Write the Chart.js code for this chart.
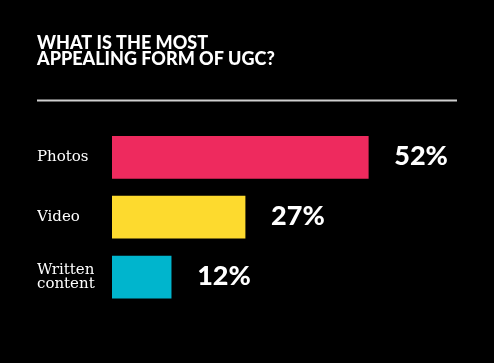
<!DOCTYPE html>
<html>
<head>
<meta charset="utf-8">
<script src="https://cdn.jsdelivr.net/npm/chart.js@4"></script>
<style>
  html, body { margin: 0; padding: 0; background: #000; }
  canvas { display: block; }
</style>
</head>
<body>
<canvas id="ugcChart" width="494" height="363"></canvas>
<script>
// Chart data
const categories = [['Photos'], ['Video'], ['Written', 'content']];
const shares = [52, 27, 12];
const barColors = ['#ee2a5e', '#fdda2e', '#00b5cd'];
const titleLines = ['WHAT IS THE MOST', 'APPEALING FORM OF UGC?'];

// Rule under the title
const titleRule = {
    id: 'titleRule',
    afterDraw(chart) {
        const t = chart.titleBlock;
        const ctx = chart.ctx;
        const y = t.bottom - 27;
        ctx.save();
        ctx.strokeStyle = '#cfcfcf';
        ctx.lineWidth = 2;
        ctx.beginPath();
        ctx.moveTo(t.left, y);
        ctx.lineTo(t.right, y);
        ctx.stroke();
        ctx.restore();
    }
};

// Percentage labels right of each bar
const valueLabels = {
    id: 'valueLabels',
    afterDatasetsDraw(chart) {
        const ctx = chart.ctx;
        const meta = chart.getDatasetMeta(0);
        ctx.save();
        ctx.fillStyle = '#fff';
        ctx.font = '900 27px Lato';
        ctx.textAlign = 'left';
        ctx.textBaseline = 'middle';
        meta.data.forEach((bar, i) => {
            ctx.fillText(shares[i] + '%', bar.x + 26, bar.y - 1);
        });
        ctx.restore();
    }
};

const ctx = document.getElementById('ugcChart').getContext('2d');
const ugcChart = new Chart(ctx, {
    type: 'bar',
    data: {
        labels: categories,
        datasets: [{
            data: shares,
            backgroundColor: barColors,
            borderWidth: 0,
            barThickness: 42
        }]
    },
    options: {
        indexAxis: 'y',
        responsive: false,
        animation: false,
        layout: {
            padding: { left: 37, right: 37, top: 0, bottom: 56 }
        },
        scales: {
            x: {
                display: false,
                min: 0,
                max: 70
            },
            y: {
                afterFit(scale) { scale.width = 75; },
                grid: { display: false },
                border: { display: false },
                ticks: {
                    color: '#fff',
                    crossAlign: 'far',
                    padding: 0,
                    font: { family: 'DejaVu Serif', size: 15, lineHeight: 0.95 }
                }
            }
        },
        plugins: {
            legend: { display: false },
            tooltip: { enabled: false },
            title: {
                display: true,
                text: titleLines,
                align: 'start',
                color: '#fff',
                font: { family: 'Lato', size: 18, weight: '900', lineHeight: 0.9 },
                padding: { top: 35, bottom: 60 }
            }
        }
    },
    plugins: [titleRule, valueLabels]
});
</script>
</body>
</html>
